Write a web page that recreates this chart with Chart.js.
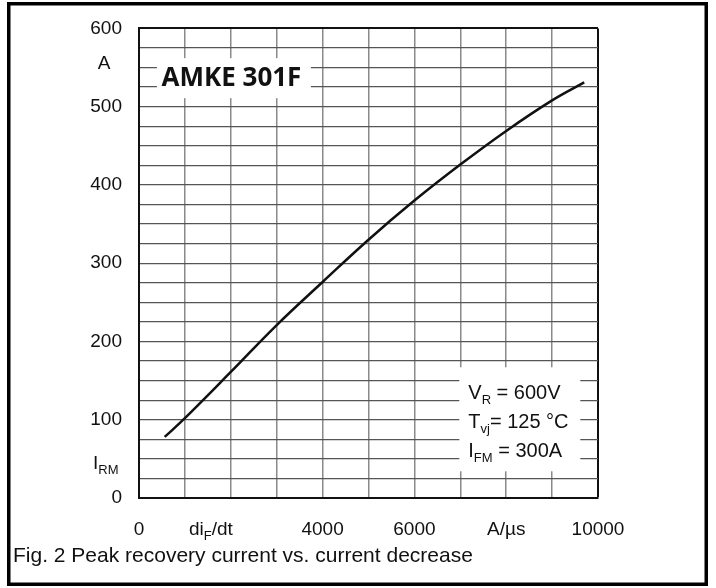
<!DOCTYPE html>
<html>
<head>
<meta charset="utf-8">
<script src="https://cdn.jsdelivr.net/npm/chart.js@4"></script>
<style>
  html, body { margin: 0; padding: 0; background: #fff; }
  #wrap { width: 716px; height: 588px; }
</style>
</head>
<body>
<div id="wrap"><canvas id="irmChart" width="716" height="588"></canvas></div>
<script>
const diFdt = [560, 1000, 2000, 3000, 4000, 5000, 6000, 7000, 8000, 9000, 9700];
const iRM   = [78, 102, 161, 221, 276, 330, 380, 426, 469, 508, 531];

const xTickLabels = { 0: '0', 4000: '4000', 6000: '6000', 8000: 'A/µs', 10000: '10000' };
const yTickLabels = [0, 100, 200, 300, 400, 500, 600];
const conditions = [
    [['V', 20, 0], ['R', 13, 5], [' = 600V', 20, 0]],
    [['T', 20, 0], ['vj', 13, 5], ['= 125 °C', 20, 0]],
    [['I', 20, 0], ['FM', 13, 5], [' = 300A', 20, 0]]
];
const typeLabel = 'AMKE 301F';
const caption = 'Fig. 2 Peak recovery current vs. current decrease';

const FONT = '"Liberation Sans", Arial, sans-serif';

// Text mit Tiefstellung zeichnen
function drawRuns(ctx, x, y, runs) {
    ctx.textAlign = 'left';
    ctx.textBaseline = 'alphabetic';
    runs.forEach(([t, size, dy]) => {
        ctx.font = size + 'px ' + FONT;
        ctx.fillText(t, x, y + dy);
        x += ctx.measureText(t).width;
    });
}

const decorPlugin = {
    id: 'decor',
    beforeDatasetsDraw(chart) {
        const { ctx, scales: { x, y } } = chart;
        ctx.save();
        ctx.fillStyle = '#fff';
        // Typenfeld und Bedingungsfeld decken das Raster ab
        ctx.fillRect(x.getPixelForValue(390), y.getPixelForValue(562), 154, 40);
        ctx.fillRect(x.getPixelForValue(7000) - 1, y.getPixelForValue(167), 121, 104);
        ctx.restore();
    },
    afterDraw(chart) {
        const { ctx, scales: { x, y } } = chart;
        ctx.save();
        ctx.fillStyle = '#111';

        // Typbezeichnung
        ctx.font = 'bold 26px "Open Sans", sans-serif';
        ctx.textAlign = 'left';
        ctx.textBaseline = 'alphabetic';
        ctx.fillText(typeLabel, x.getPixelForValue(490), y.getPixelForValue(526));

        // Messbedingungen
        const cx = x.getPixelForValue(7000) + 8;
        conditions.forEach((runs, i) => {
            drawRuns(ctx, cx, y.getPixelForValue(127) + i * 29, runs);
        });

        // Achsenbeschriftungen
        ctx.font = '19px ' + FONT;
        ctx.textAlign = 'center';
        ctx.textBaseline = 'middle';
        ctx.fillText('A', 104, y.getPixelForValue(555));
        drawRuns(ctx, 93, y.getPixelForValue(45) + 6, [['I', 19, 0], ['RM', 13, 5]]);
        drawRuns(ctx, 189, 535, [['di', 19, 0], ['F', 13, 5], ['/dt', 19, 0]]);

        // Bildunterschrift
        ctx.font = '21px ' + FONT;
        ctx.textAlign = 'left';
        ctx.textBaseline = 'alphabetic';
        ctx.fillText(caption, 13, 562);

        // Rahmen
        ctx.strokeStyle = '#000';
        ctx.lineWidth = 3.5;
        ctx.strokeRect(8.75, 3.75, 697.5, 580.5);
        ctx.restore();
    }
};

new Chart(document.getElementById('irmChart'), {
    type: 'line',
    data: {
        datasets: [{
            data: diFdt.map((v, i) => ({ x: v, y: iRM[i] })),
            borderColor: '#111',
            borderWidth: 2.5,
            pointRadius: 0,
            tension: 0.4,
            fill: false
        }]
    },
    options: {
        responsive: false,
        animation: false,
        layout: { padding: { top: 27, right: 118, left: 0, bottom: 0 } },
        plugins: {
            legend: { display: false },
            title: { display: false },
            tooltip: { enabled: false }
        },
        scales: {
            x: {
                type: 'linear',
                min: 0,
                max: 10000,
                afterFit: (s) => { s.height = 90; },
                border: { display: true, color: '#111', width: 2 },
                grid: {
                    drawTicks: false,
                    color: (c) => c.tick && c.tick.value === 10000 ? '#111' : '#8a8a8a',
                    lineWidth: (c) => c.tick && c.tick.value === 10000 ? 2 : 1.5
                },
                ticks: {
                    stepSize: 1000,
                    autoSkip: false,
                    maxRotation: 0,
                    padding: 20,
                    color: '#111',
                    font: { family: FONT, size: 19 },
                    callback: (v) => xTickLabels[v] !== undefined ? xTickLabels[v] : ''
                }
            },
            y: {
                min: 0,
                max: 600,
                afterFit: (s) => { s.width = 139; },
                border: { display: true, color: '#111', width: 2 },
                grid: {
                    drawTicks: false,
                    color: (c) => c.tick && c.tick.value === 600 ? '#111' : '#555',
                    lineWidth: (c) => c.tick && c.tick.value === 600 ? 2 : 1.3
                },
                ticks: {
                    stepSize: 25,
                    autoSkip: false,
                    padding: 17,
                    color: '#111',
                    font: { family: FONT, size: 19 },
                    callback: (v) => yTickLabels.includes(v) ? String(v) : ''
                }
            }
        }
    },
    plugins: [decorPlugin]
});
</script>
</body>
</html>
